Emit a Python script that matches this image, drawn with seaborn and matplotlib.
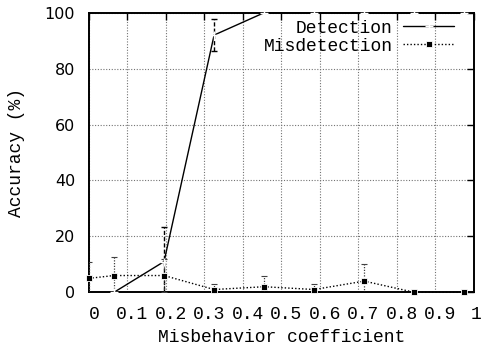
import matplotlib
matplotlib.use("Agg")
import matplotlib.pyplot as plt
import matplotlib.transforms as mtransforms
import seaborn as sns
import numpy as np

# ---- data ----
coef = [0.0, 0.065, 0.195, 0.325, 0.455, 0.585, 0.715, 0.845, 0.975]
det_x = [0.065, 0.195, 0.325, 0.455, 0.585, 0.715, 0.845, 0.975]
det_y = [0, 11, 92, 100, 100, 100, 100, 100]
det_err = [0, 12.5, 5.8, 0, 0, 0, 0, 0]
mis_y = [5, 6, 6, 1, 2, 1, 4, 0, 0]
mis_err = [6, 6.5, 6, 2, 4, 2, 6, 0, 0]
xticks = [0, 0.1, 0.2, 0.3, 0.4, 0.5, 0.6, 0.7, 0.8, 0.9, 1.0]
xticklabels = ["0", "0.1", "0.2", "0.3", "0.4", "0.5", "0.6", "0.7", "0.8", "0.9", "1"]
yticks = [0, 20, 40, 60, 80, 100]
yticklabels = ["0", "20", "40", "60", "80", "100"]

sns.set_theme(style="white")
mono = "Liberation Mono"
sans = "DejaVu Sans"

fig = plt.figure(figsize=(4.82, 3.51), dpi=100)
ax = fig.add_axes([0.1846, 0.1672, 0.7988, 0.7966])

# error bars
dx = np.array(det_x); dy = np.array(det_y); de = np.array(det_err)
m = de > 0
eb = ax.errorbar(dx[m], dy[m], yerr=de[m], fmt="none", ecolor="black",
                 elinewidth=1.0, capsize=2, capthick=1.0, zorder=3)
for c in eb[2]:
    c.set_linestyle((0, (3, 1.5)))

mx = np.array(coef); my = np.array(mis_y); me = np.array(mis_err)
m2 = me > 0
eb2 = ax.errorbar(mx[m2], my[m2], yerr=me[m2], fmt="none", ecolor="0.25",
                  elinewidth=0.9, capsize=2, capthick=0.8, zorder=3)
for c in eb2[2]:
    c.set_linestyle((0, (1, 1.2)))

# lines
sns.lineplot(x=det_x, y=det_y, ax=ax, color="black", linewidth=1.0,
             marker="+", markersize=6, markeredgewidth=1.0,
             label="Detection", clip_on=False, zorder=4)
sns.lineplot(x=coef, y=mis_y, ax=ax, color="black", linewidth=1.0,
             linestyle=(0, (1, 1.5)), marker="s", markersize=4.5,
             markeredgewidth=0.6, label="Misdetection", clip_on=False, zorder=4)

ax.set_xlim(0, 1)
ax.set_ylim(0, 100)
ax.set_xticks(xticks)
ax.set_xticklabels(xticklabels, fontfamily=mono, fontsize=13)
ax.set_yticks(yticks)
ax.set_yticklabels(yticklabels, fontfamily=sans, fontsize=11.5)

ax.tick_params(direction="in", top=True, right=True, length=5, width=1,
               color="black", labelcolor="black")
ax.tick_params(axis="x", pad=10)
ax.tick_params(axis="y", pad=10)

labs = ax.get_xticklabels()
for i, lab in enumerate(labs):
    shift = 2 if i == len(labs) - 1 else 5
    off = mtransforms.ScaledTranslation(shift / 100, 0, fig.dpi_scale_trans)
    lab.set_transform(lab.get_transform() + off)

ax.grid(True, color="0.45", linestyle=(0, (1, 1.5)), linewidth=0.8)
for s in ax.spines.values():
    s.set_visible(True)
    s.set_color("black")
    s.set_linewidth(1.4)

ax.set_xlabel("Misbehavior coefficient", fontfamily=mono, fontsize=13,
              color="black", labelpad=4)
ax.set_ylabel("Accuracy (%)", fontfamily=mono, fontsize=13, color="black",
              labelpad=14)

leg = ax.legend(loc="upper right", markerfirst=False, frameon=False,
                handlelength=2.8, handletextpad=0.6, labelspacing=0.05,
                bbox_to_anchor=(0.981, 1.02),
                borderaxespad=0.3, prop={"family": mono, "size": 13})
for t in leg.get_texts():
    t.set_color("black")

fig.savefig("out.png", dpi=100)
